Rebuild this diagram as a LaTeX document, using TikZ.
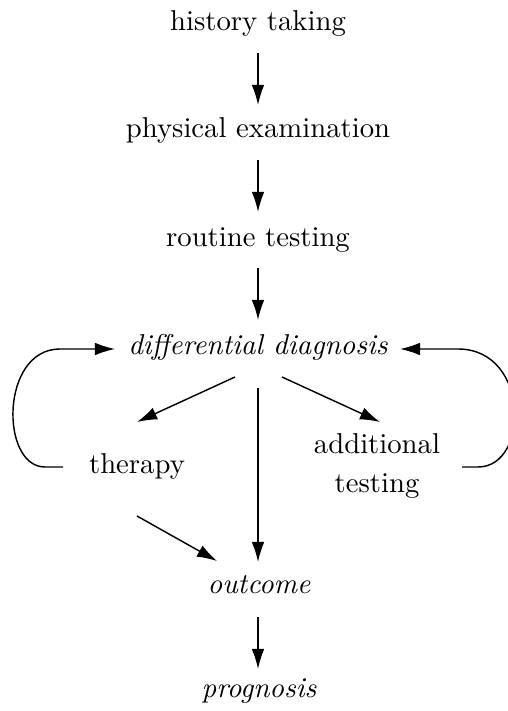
\documentclass[tikz,border=0pt]{standalone}
\usetikzlibrary{arrows.meta,calc}
\begin{document}
\begin{tikzpicture}[x=0.3483pt,y=-0.3483pt,
  lbl/.style={inner sep=0pt,anchor=base},
  lblit/.style={lbl,font=\itshape},
  arr/.style={line width=0.5pt,-{Latex[length=7pt,width=4.4pt]}},
  loop/.style={line width=0.5pt,-{Latex[length=7pt,width=4.4pt]}}]
\useasboundingbox (0,0) rectangle (507,711);

% steps of the work-up
\node[lbl]   (h)   at (258,31)  {history taking};
\node[lbl]   (p)   at (258,138) {physical examination};
\node[lbl]   (r)   at (258,247) {routine testing};
\node[lblit] (d)   at (258,355) {differential diagnosis};
\node[lbl]   (th)  at (137,473) {therapy};
\node[inner sep=0pt,align=center] (ad) at (377,466) {additional\\[1.6pt]testing};
\node[lblit] (out) at (259,593) {outcome};
\node[lblit] (pr)  at (259,697) {prognosis};

% straight connectors
\draw[arr] ($(h.base)+(0,22)$)  -- ($(p.base)+(0,-33)$);
\draw[arr] ($(p.base)+(0,22)$)  -- ($(r.base)+(0,-35)$);
\draw[arr] ($(r.base)+(0,21)$)  -- ($(d.base)+(0,-35)$);
\draw[arr] ($(d.base)+(-23,22)$) -- ($(th.base)+(0,-51)$);
\draw[arr] ($(d.base)+(0,33)$)  -- ($(out.base)+(-1,-31)$);
\draw[arr] ($(d.base)+(24,22)$) -- ($(ad.center)+(3,-44)$);
\draw[arr] ($(th.base)+(0,43)$) -- ($(out.base)+(-42,-32)$);
\draw[arr] ($(out.base)+(-1,24)$) -- ($(pr.base)+(-1,-28)$);

% feedback loops back to the differential diagnosis
\draw[loop] ($(th.base)+(-74,-6)$) -- (45,467)
  .. controls (0,467) and (0,349) .. (60,349) -- ($(d.base)+(-143,-6)$);
\draw[loop] ($(ad.center)+(85,1)$) -- (478,467)
  .. controls (530,467) and (530,349) .. (458,349) -- ($(d.base)+(142,-6)$);
\end{tikzpicture}
\end{document}
